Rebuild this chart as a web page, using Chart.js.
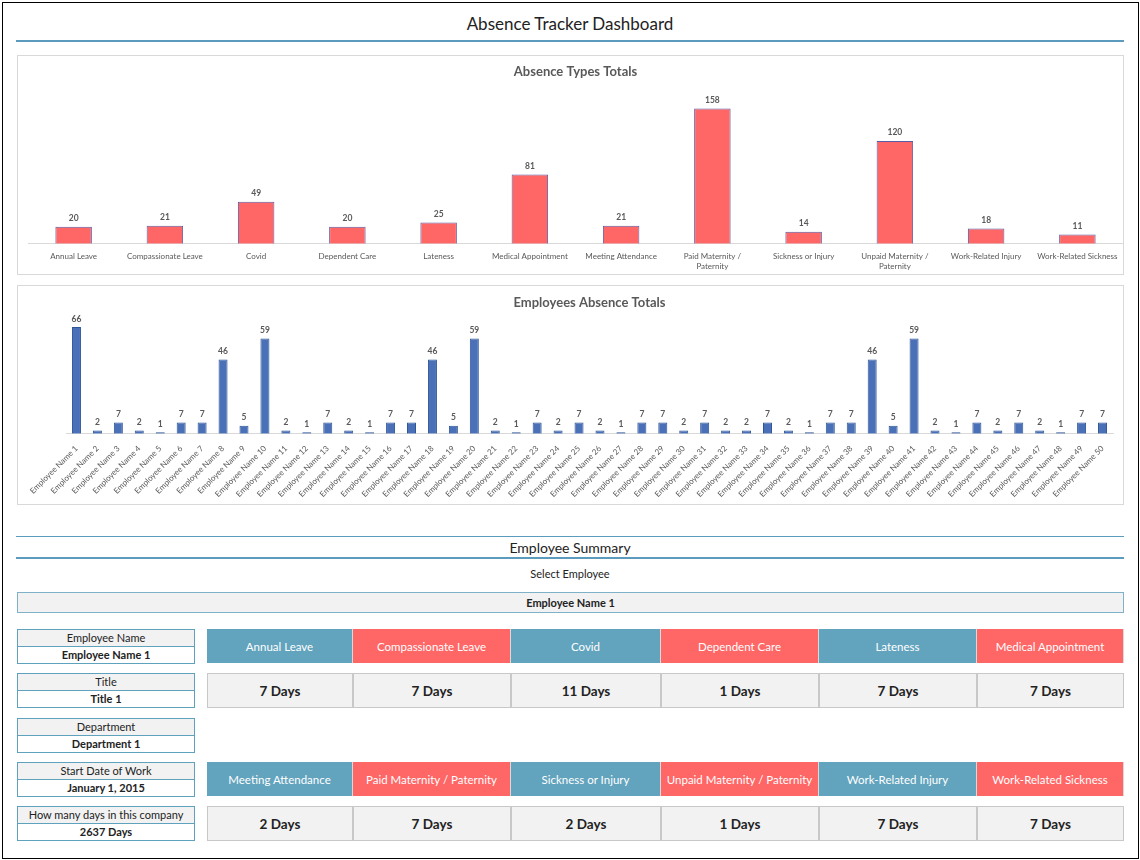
<!DOCTYPE html>
<html>
<head>
<meta charset="utf-8">
<title>Absence Tracker Dashboard</title>
<script src="https://cdn.jsdelivr.net/npm/chart.js@4.4.0/dist/chart.umd.min.js"></script>
<style>
  body { margin: 0; background: #fff; font-family: "Century Gothic", Lato, "Open Sans", sans-serif; color: #222; }
  .abs { position: absolute; box-sizing: border-box; }
  #frame { left: 2px; top: 2px; width: 1137px; height: 857px; border: 1px solid #000; }
  .center { text-align: center; }
  .panel { border: 1px solid #d9d9d9; background: #fff; }
  .bluebar { background: #5b9bbd; }
  .info { left: 17px; width: 178px; height: 35px; border: 1px solid #5ea2bd; font-size: 11px; }
  .info div { height: 16px; line-height: 16px; text-align: center; white-space: nowrap; }
  .info .lbl { background: #f2f2f2; border-bottom: 1px solid #5ea2bd; }
  .info .val { font-weight: bold; background: #fff; }
  .hdr { color: #fff; font-size: 11.5px; text-align: center; display: flex; align-items: center; justify-content: center; white-space: nowrap; }
  .day { background: #f2f2f2; border: 1px solid #c8c8c8; font-weight: bold; font-size: 13.5px; display: flex; align-items: center; justify-content: center; }
</style>
</head>
<body>
<div id="frame" class="abs"></div>

<div class="abs center" style="left:16px; top:13px; width:1108px; font-size:17px;">Absence Tracker Dashboard</div>
<div class="abs bluebar" style="left:16px; top:40px; width:1108px; height:2px;"></div>

<div class="abs panel" style="left:17px; top:55px; width:1107px; height:220px;">
  <canvas id="typesChart"></canvas>
</div>
<div class="abs panel" style="left:17px; top:285px; width:1107px; height:220px;">
  <canvas id="employeesChart"></canvas>
</div>

<div class="abs bluebar" style="left:16px; top:536px; width:1108px; height:1px;"></div>
<div class="abs center" style="left:16px; top:539px; width:1108px; font-size:14px;">Employee Summary</div>
<div class="abs bluebar" style="left:16px; top:557px; width:1108px; height:2px;"></div>
<div class="abs center" style="left:16px; top:567px; width:1108px; font-size:11px;">Select Employee</div>
<div class="abs center" style="left:17px; top:592px; width:1107px; height:21px; line-height:19px; background:#f2f2f2; border:1px solid #7fb1c9; font-size:11px; font-weight:bold;">Employee Name 1</div>

<div id="summary"></div>

<script>
// absence types chart
var absenceTypes = ['Annual Leave', 'Compassionate Leave', 'Covid', 'Dependent Care', 'Lateness', 'Medical Appointment',
  'Meeting Attendance', ['Paid Maternity /', 'Paternity'], 'Sickness or Injury', ['Unpaid Maternity /', 'Paternity'],
  'Work-Related Injury', 'Work-Related Sickness'];
var typeTotals = [20, 21, 49, 20, 25, 81, 21, 158, 14, 120, 18, 11];

// employees chart
var employeeNames = [];
for (var n = 1; n <= 50; n++) employeeNames.push('Employee Name ' + n);
var employeeTotals = [66, 2, 7, 2, 1, 7, 7, 46, 5, 59, 2, 1, 7, 2, 1, 7, 7, 46, 5, 59,
  2, 1, 7, 2, 7, 2, 1, 7, 7, 2, 7, 2, 2, 7, 2, 1, 7, 7, 46, 5,
  59, 2, 1, 7, 2, 7, 2, 1, 7, 7];

// employee summary
var infoLabels = ['Employee Name', 'Title', 'Department', 'Start Date of Work', 'How many days in this company'];
var infoValues = ['Employee Name 1', 'Title 1', 'Department 1', 'January 1, 2015', '2637 Days'];
var summaryTypes = ['Annual Leave', 'Compassionate Leave', 'Covid', 'Dependent Care', 'Lateness', 'Medical Appointment',
  'Meeting Attendance', 'Paid Maternity / Paternity', 'Sickness or Injury', 'Unpaid Maternity / Paternity',
  'Work-Related Injury', 'Work-Related Sickness'];
var summaryDays = [7, 7, 11, 1, 7, 7, 2, 7, 2, 1, 7, 7];

var gray = '#595959';
var valueLabels = {
  id: 'valueLabels',
  afterDatasetsDraw: function (chart) {
    var ctx = chart.ctx;
    ctx.save();
    ctx.font = 'bold 8.5px "Century Gothic", Lato, sans-serif';
    ctx.fillStyle = gray;
    ctx.textAlign = 'center';
    ctx.textBaseline = 'bottom';
    chart.getDatasetMeta(0).data.forEach(function (bar, i) {
      ctx.fillText(chart.data.datasets[0].data[i], bar.x, bar.y - 4);
    });
    ctx.restore();
  }
};

Chart.defaults.font.family = '"Century Gothic", Lato, sans-serif';
Chart.defaults.animation = false;

new Chart(document.getElementById('typesChart'), {
  type: 'bar',
  data: {
    labels: absenceTypes,
    datasets: [{
      data: typeTotals,
      backgroundColor: '#ff6666',
      borderColor: '#5b5ba6',
      borderWidth: 1,
      categoryPercentage: 1,
      barPercentage: 0.4
    }]
  },
  plugins: [valueLabels],
  options: {
    responsive: true,
    maintainAspectRatio: false,
    layout: { padding: { left: 10, right: 0, top: 0, bottom: 3 } },
    plugins: {
      legend: { display: false },
      tooltip: { enabled: false },
      title: { display: true, text: 'Absence Types Totals', color: gray, font: { size: 13, weight: 'bold' }, padding: { top: 8, bottom: 10 } }
    },
    scales: {
      x: {
        grid: { display: false },
        border: { color: '#d9d9d9' },
        ticks: { color: gray, font: { size: 8 }, maxRotation: 0, autoSkip: false, padding: 0 }
      },
      y: { display: false, min: 0, max: 180 }
    }
  }
});

new Chart(document.getElementById('employeesChart'), {
  type: 'bar',
  data: {
    labels: employeeNames,
    datasets: [{
      data: employeeTotals,
      backgroundColor: '#4a70b8',
      borderColor: '#2f5597',
      borderWidth: 1,
      categoryPercentage: 1,
      barPercentage: 0.43
    }]
  },
  plugins: [valueLabels],
  options: {
    responsive: true,
    maintainAspectRatio: false,
    layout: { padding: { left: 48, right: 10, top: 0, bottom: 3 } },
    plugins: {
      legend: { display: false },
      tooltip: { enabled: false },
      title: { display: true, text: 'Employees Absence Totals', color: gray, font: { size: 13, weight: 'bold' }, padding: { top: 9, bottom: 10 } }
    },
    scales: {
      x: {
        grid: { display: false },
        border: { color: '#d9d9d9' },
        ticks: { color: gray, font: { size: 8 }, minRotation: 45, maxRotation: 45, autoSkip: false, padding: 2 }
      },
      y: { display: false, min: 0, max: 70 }
    }
  }
});

// summary boxes and grid
var summary = document.getElementById('summary');
var infoTops = [629, 673, 718, 762, 806];
infoLabels.forEach(function (lbl, i) {
  var box = document.createElement('div');
  box.className = 'abs info';
  box.style.top = infoTops[i] + 'px';
  box.innerHTML = '<div class="lbl">' + lbl + '</div><div class="val">' + infoValues[i] + '</div>';
  summary.appendChild(box);
});

var colEdges = [207, 353, 511, 661, 819, 977, 1124];
var rowTops = [[629, 673], [762, 806]];
summaryTypes.forEach(function (t, i) {
  var row = Math.floor(i / 6), col = i % 6;
  var left = colEdges[col], width = colEdges[col + 1] - colEdges[col];
  var h = document.createElement('div');
  h.className = 'abs hdr';
  h.style.cssText = 'left:' + left + 'px;top:' + rowTops[row][0] + 'px;width:' + width + 'px;height:34px;background:' + (col % 2 ? '#ff6666' : '#62a3bd') + ';border-right:1px solid #d9d9d9;';
  h.textContent = t;
  summary.appendChild(h);
  var d = document.createElement('div');
  d.className = 'abs day';
  d.style.cssText = 'left:' + left + 'px;top:' + rowTops[row][1] + 'px;width:' + width + 'px;height:35px;';
  d.textContent = summaryDays[i] + ' Days';
  summary.appendChild(d);
});
</script>
</body>
</html>
